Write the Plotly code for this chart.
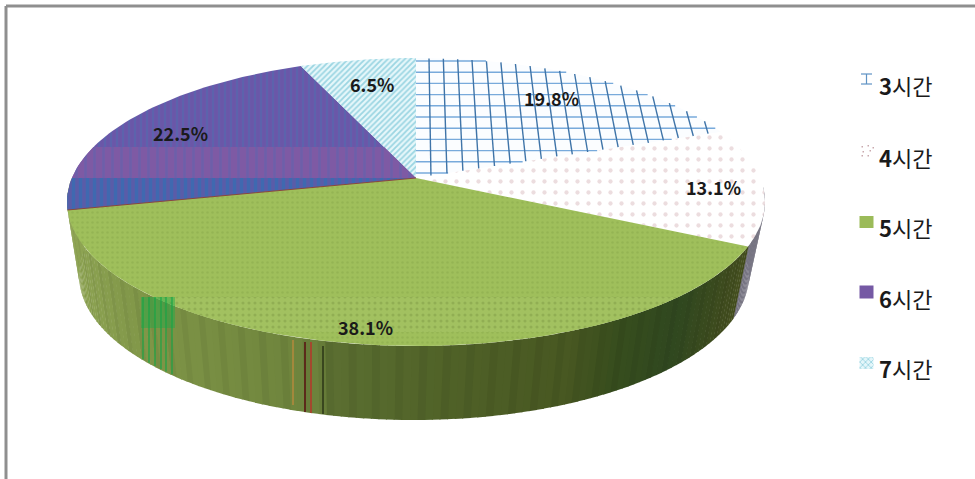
import math
import plotly.graph_objects as go

# ---- data ----
categories = ["3시간", "4시간", "5시간", "6시간", "7시간"]
values = [19.8, 13.1, 38.1, 22.5, 6.5]

# ---- geometry / style ----
W, H = 975, 479
VERTEX = (416, 178)
TOP = dict(cx=416, cy=202, rx=349, ry=144)
BOT = dict(cx=414, cy=275, rx=335, ry=145)
PERSP = 0.82
FONT = "Noto Sans CJK KR"
LABEL_XY = [(551, 98), (713, 187), (365, 327), (180, 133), (372, 84)]
LEGEND_Y = [79, 150, 222, 292, 363]
LEGEND_TEXT_Y = [85, 157, 227, 298, 368]
WALL_STOPS = [(67, (143, 165, 84)), (140, (128, 150, 72)), (250, (116, 138, 64)),
              (318, (108, 130, 60)), (326, (92, 112, 50)), (450, (80, 98, 40)),
              (570, (72, 88, 34)), (620, (56, 78, 30)), (680, (48, 72, 32)),
              (735, (64, 76, 30)), (748, (70, 80, 32))]

fig = go.Figure()


def warp(theta):
    h = theta / 2
    c, s = math.cos(h), math.sin(h)
    return 2 * math.atan2(PERSP * s, c)


def edge(e, t):
    return e["cx"] + e["rx"] * math.sin(t), e["cy"] - e["ry"] * math.cos(t)


def add_poly(pts, color, pattern=None):
    xs = [p[0] for p in pts] + [pts[0][0]]
    ys = [p[1] for p in pts] + [pts[0][1]]
    kw = dict(fillpattern=pattern) if pattern else {}
    fig.add_trace(go.Scatter(x=xs, y=ys, mode="lines", fill="toself", fillcolor=color,
                             line=dict(width=0, color=color), hoverinfo="skip",
                             showlegend=False, **kw))


def clip_y(pts, y0, y1):
    def clip(poly, inside, cross):
        out = []
        for i, p in enumerate(poly):
            q = poly[(i + 1) % len(poly)]
            if inside(p):
                out.append(p)
            if inside(p) != inside(q):
                out.append(cross(p, q))
        return out
    def at(y):
        return lambda p, q: (p[0] + (q[0] - p[0]) * (y - p[1]) / (q[1] - p[1]), y)
    pts = clip(pts, lambda p: p[1] >= y0, at(y0))
    if pts:
        pts = clip(pts, lambda p: p[1] <= y1, at(y1))
    return pts


def inside(poly, x, y):
    hit = False
    for i, (x0, y0) in enumerate(poly):
        x1, y1 = poly[(i + 1) % len(poly)]
        if (y0 > y) != (y1 > y) and x < x0 + (x1 - x0) * (y - y0) / (y1 - y0):
            hit = not hit
    return hit


def clipped_line(poly, a, b, color, width):
    """Draw the part of segment a-b lying inside the polygon."""
    steps = 300
    pts = [(a[0] + (b[0] - a[0]) * k / steps, a[1] + (b[1] - a[1]) * k / steps) for k in range(steps + 1)]
    pts = [p for p in pts if inside(poly, *p)]
    if len(pts) > 1:
        fig.add_trace(go.Scatter(x=[pts[0][0], pts[-1][0]], y=[pts[0][1], pts[-1][1]], mode="lines",
                                 line=dict(color=color, width=width), hoverinfo="skip", showlegend=False))


def wall_color(x):
    if x <= WALL_STOPS[0][0]:
        return WALL_STOPS[0][1]
    for (a, ca), (b, cb) in zip(WALL_STOPS, WALL_STOPS[1:]):
        if x <= b:
            f = (x - a) / (b - a)
            return tuple(ca[i] + (cb[i] - ca[i]) * f for i in range(3))
    return WALL_STOPS[-1][1]


def wall_bottom_y(x):
    s = (x - BOT["cx"]) / BOT["rx"]
    return BOT["cy"] + BOT["ry"] * math.sqrt(max(0, 1 - s * s))


# cumulative boundaries on the projected ellipse
bounds = [0.0]
for v in values:
    bounds.append(bounds[-1] + v / sum(values) * 2 * math.pi)
warped = [warp(b) if b < math.pi else warp(b - 2 * math.pi) + 2 * math.pi for b in bounds]

# ---- side wall ----
t_left, t_right = math.radians(280), math.radians(84)
t_45 = warped[2]
n = 150
for i in range(n):
    a = t_right + (t_left - t_right) * i / n
    b = t_right + (t_left - t_right) * (i + 1.15) / n
    mid = (a + b) / 2
    xm = edge(TOP, mid)[0]
    if mid < t_45:
        col = (118, 116, 130)
    else:
        col = wall_color(xm)
        if i % 3 == 0:
            col = tuple(c * 0.95 for c in col)
    add_poly([edge(TOP, a), edge(TOP, b), edge(BOT, b), edge(BOT, a)],
             "rgb(%d,%d,%d)" % col)


# ---- top surface ----
def slice_pts(i):
    a, b = warped[i], warped[i + 1]
    m = 70
    return [VERTEX] + [edge(TOP, a + (b - a) * k / m) for k in range(m + 1)]


styles = [
    ("#fbfdff", None),
    ("#ffffff", dict(shape=".", fgcolor="#d9bcc0", bgcolor="#ffffff", size=11, solidity=0.12)),
    ("#9bbb59", dict(shape=".", fgcolor="#8aa94c", bgcolor="#9fbf5b", size=5, solidity=0.2)),
    ("#6258ab", dict(shape="|", fgcolor="#4d6fb0", bgcolor="#6a57a8", size=6, solidity=0.35)),
    ("#d6f0f5", dict(shape="/", fgcolor="#4fb3c9", bgcolor="#e6f7fa", size=4, solidity=0.45)),
]
for i, (col, pat) in enumerate(styles):
    add_poly(slice_pts(i), col, pat)

# tonal bands of the compressed fills
add_poly(clip_y(slice_pts(3), 147, 178), "#7b5aa6",
         dict(shape="|", fgcolor="#5c64ae", bgcolor="#7e5aa4", size=9, solidity=0.3))
add_poly(clip_y(slice_pts(3), 178, 215), "#4a62ae",
         dict(shape="|", fgcolor="#2476b8", bgcolor="#5a5ca8", size=7, solidity=0.5))
add_poly(clip_y(slice_pts(2), 297, 332), "#9bbb59",
         dict(shape=".", fgcolor="#7f9c45", bgcolor="#a2c160", size=6, solidity=0.22))

# hand-hatched grid of the 3h slice
grid_poly = slice_pts(0)
y = 61.0
while y < 180:
    clipped_line(grid_poly, (416, y), (760, y), "#78aadb", 1.4)
    y += 11.2
for k in range(26):
    clipped_line(grid_poly, (429 + 14.3 * k, 58), (431 + 16.1 * k, 178), "#3f74a8", 1.4)

# boundary hairline between 5h and 6h
fig.add_trace(go.Scatter(x=[VERTEX[0], edge(TOP, warped[3])[0]], y=[VERTEX[1], edge(TOP, warped[3])[1]],
                         mode="lines", line=dict(color="#8a4a3a", width=1), hoverinfo="skip", showlegend=False))

# wall artefacts
fig.add_shape(type="rect", x0=141, x1=175, y0=297, y1=328, fillcolor="rgba(30,170,70,0.45)", line_width=0, layer="above")
for x in [143, 149, 155, 161, 166, 172]:
    fig.add_shape(type="line", x0=x, x1=x, y0=297, y1=wall_bottom_y(x) - 1,
                  line=dict(color="rgba(20,165,70,0.7)", width=1.6), layer="above")
for x, y0, y1, c, wd in [(305, 342, 412, "#5c2a1a", 2), (311, 342, 413, "#a4482e", 2),
                         (293, 340, 405, "#b58a3c", 1.5), (323, 346, 414, "#2b3416", 1.5)]:
    fig.add_shape(type="line", x0=x, x1=x, y0=y0, y1=y1, line=dict(color=c, width=wd), layer="above")

# ---- slice labels ----
for v, (x, y) in zip(values, LABEL_XY):
    fig.add_annotation(x=x, y=y, text=f"{v:.1f}%", showarrow=False,
                       font=dict(family=FONT, size=18, color="#1a1a1a", weight=700))

# ---- legend ----
SW = 866.5
for x0, x1, y0, y1 in [(SW - 5.5, SW + 5.5, 74, 74), (SW - 5.5, SW + 5.5, 84, 84), (SW, SW, 74, 84)]:
    fig.add_shape(type="line", x0=x0, x1=x1, y0=y0, y1=y1, line=dict(color="#5f93c4", width=1.2))
for dx, dy in [(-5, -4), (1, -5), (6, -3), (-4, 1), (3, 0), (-5, 5), (1, 5)]:
    fig.add_shape(type="rect", x0=SW + dx, x1=SW + dx + 1.5, y0=LEGEND_Y[1] + dy, y1=LEGEND_Y[1] + dy + 1.5,
                  fillcolor="#c9a9ae", line_width=0)
add_poly([(SW - 7, LEGEND_Y[2] - 6), (SW + 7, LEGEND_Y[2] - 6), (SW + 7, LEGEND_Y[2] + 6), (SW - 7, LEGEND_Y[2] + 6)], "#9bbb59")
add_poly([(SW - 7, LEGEND_Y[3] - 6.5), (SW + 7, LEGEND_Y[3] - 6.5), (SW + 7, LEGEND_Y[3] + 6.5), (SW - 7, LEGEND_Y[3] + 6.5)], "#7559a4")
add_poly([(SW - 7, LEGEND_Y[4] - 6), (SW + 7, LEGEND_Y[4] - 6), (SW + 7, LEGEND_Y[4] + 6), (SW - 7, LEGEND_Y[4] + 6)], "#bfe6ee",
         dict(shape="x", fgcolor="#58b7cc", bgcolor="#e4f6fa", size=4, solidity=0.4))
for name, y in zip(categories, LEGEND_TEXT_Y):
    fig.add_annotation(x=877, y=y, text=f"<b>{name[0]}</b>{name[1:]}", showarrow=False, xanchor="left",
                       font=dict(family=FONT, size=22, color="#1a1a1a"))

# ---- frame ----
fig.add_shape(type="line", x0=6, x1=6, y0=6, y1=H, line=dict(color="#8f8f8f", width=3))
fig.add_shape(type="line", x0=6, x1=W, y0=6, y1=6, line=dict(color="#8f8f8f", width=3))

fig.update_layout(width=W, height=H, margin=dict(l=0, r=0, t=0, b=0), showlegend=False,
                  paper_bgcolor="white", plot_bgcolor="white",
                  xaxis=dict(range=[0, W], visible=False, fixedrange=True),
                  yaxis=dict(range=[H, 0], visible=False, fixedrange=True))
fig.write_html("out.html", config=dict(displayModeBar=False),
               post_script="document.body.style.margin='0';document.body.style.overflow='hidden';")
